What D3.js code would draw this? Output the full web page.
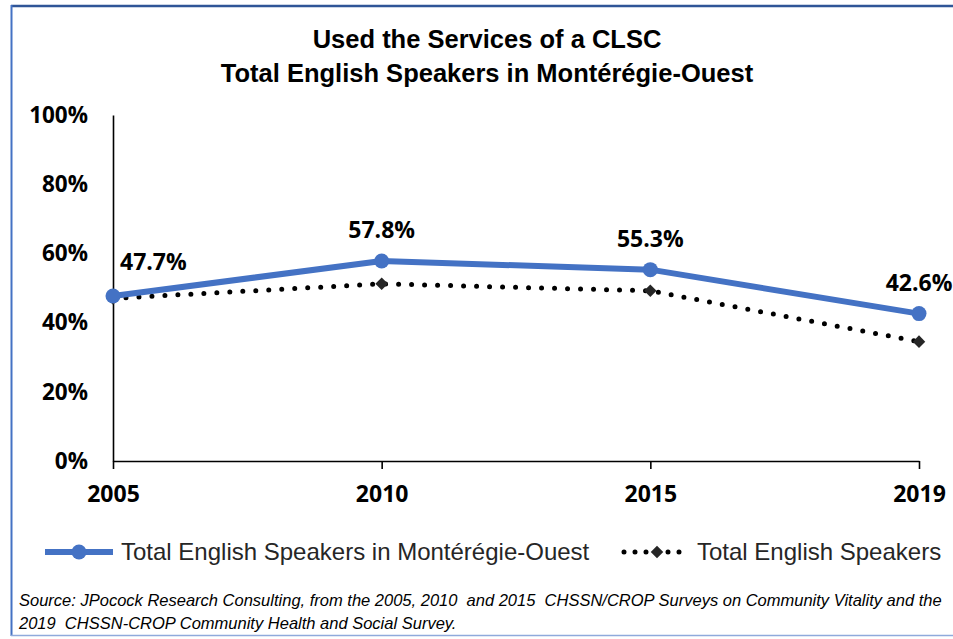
<!DOCTYPE html>
<html>
<head>
<meta charset="utf-8">
<script src="https://cdn.jsdelivr.net/npm/d3@7"></script>
<style>
  body { margin: 0; background: #fff; }
  svg { display: block; }
</style>
</head>
<body>
<div id="chart"></div>
<script>
const years = ["2005", "2010", "2015", "2019"];
const monteregieValues = [0.477, 0.578, 0.553, 0.426];
const totalEnglishValues = [0.47, 0.512, 0.492, 0.345];
const yTicks = [0, 0.2, 0.4, 0.6, 0.8, 1];
const titleLines = ["Used the Services of a CLSC", "Total English Speakers in Montérégie-Ouest"];
const seriesNames = ["Total English Speakers in Montérégie-Ouest", "Total English Speakers"];
const sourceLines = [
    "Source: JPocock Research Consulting, from the 2005, 2010  and 2015  CHSSN/CROP Surveys on Community Vitality and the",
    "2019  CHSSN-CROP Community Health and Social Survey."
];

const width = 953, height = 639;
const plot = {left: 113, right: 919, top: 115, bottom: 461};
const blue = "#4472c4";
const calibri = "'Liberation Sans', sans-serif";
const labelFont = "'Open Sans', 'DejaVu Sans', sans-serif";

const svg = d3.select("#chart")
    .append("svg")
    .attr("width", width)
    .attr("height", height);

// frame
svg.append("line").attr("x1", 11).attr("x2", width).attr("y1", 6).attr("y2", 6)
    .attr("stroke", "#2f5597").attr("stroke-width", 2.5);
svg.append("line").attr("x1", 11.5).attr("x2", 11.5).attr("y1", 5).attr("y2", 636)
    .attr("stroke", blue).attr("stroke-width", 2);
svg.append("line").attr("x1", 11).attr("x2", width).attr("y1", 635.5).attr("y2", 635.5)
    .attr("stroke", "#8faadc").attr("stroke-width", 1.5);

// title
svg.selectAll("text.title")
    .data(titleLines)
    .enter()
    .append("text")
    .attr("class", "title")
    .attr("x", 487)
    .attr("y", function (d, i) { return 48 + i * 34; })
    .attr("text-anchor", "middle")
    .style("font-family", calibri)
    .style("font-weight", "bold")
    .style("font-size", "25.5px")
    .text(function (d) { return d; });

const x = d3.scalePoint().domain(years).range([plot.left, plot.right]);
const y = d3.scaleLinear().domain([0, 1]).range([plot.bottom, plot.top]);

const yAxis = svg.append("g")
    .attr("transform", "translate(" + plot.left + ",0)")
    .call(d3.axisLeft(y).tickValues(yTicks).tickFormat(d3.format(".0%")).tickSize(0).tickPadding(25));

const xAxis = svg.append("g")
    .attr("transform", "translate(0," + plot.bottom + ")")
    .call(d3.axisBottom(x).tickSize(8).tickSizeOuter(0).tickPadding(17));

[yAxis, xAxis].forEach(function (ax) {
    ax.select(".domain").attr("stroke", "#000").attr("stroke-width", 1.6);
    ax.selectAll(".tick line").attr("stroke", "#000").attr("stroke-width", 1.6);
    ax.selectAll(".tick text")
        .attr("fill", "#000")
        .style("font-family", labelFont)
        .style("font-weight", "bold");
});
yAxis.selectAll(".tick text").style("font-size", "22.5px");
xAxis.selectAll(".tick text").style("font-size", "23px");

const line = d3.line()
    .x(function (d, i) { return x(years[i]); })
    .y(function (d) { return y(d); });

// dotted series
svg.append("path")
    .datum(totalEnglishValues)
    .attr("d", line)
    .attr("fill", "none")
    .attr("stroke", "#000")
    .attr("stroke-width", 5)
    .attr("stroke-linecap", "round")
    .attr("stroke-dasharray", "0,13");

svg.selectAll("path.diamond")
    .data(totalEnglishValues)
    .enter()
    .append("path")
    .attr("class", "diamond")
    .attr("d", d3.symbol().type(d3.symbolDiamond2).size(100))
    .attr("transform", function (d, i) { return "translate(" + x(years[i]) + "," + y(d) + ")"; })
    .attr("fill", "#262626");

// blue series
svg.append("path")
    .datum(monteregieValues)
    .attr("d", line)
    .attr("fill", "none")
    .attr("stroke", blue)
    .attr("stroke-width", 6)
    .attr("stroke-linejoin", "round");

svg.selectAll("circle.marker")
    .data(monteregieValues)
    .enter()
    .append("circle")
    .attr("class", "marker")
    .attr("cx", function (d, i) { return x(years[i]); })
    .attr("cy", function (d) { return y(d); })
    .attr("r", 7.5)
    .attr("fill", blue);

svg.selectAll("text.value")
    .data(monteregieValues)
    .enter()
    .append("text")
    .attr("class", "value")
    .attr("x", function (d, i) { return i === 0 ? x(years[i]) + 7 : x(years[i]); })
    .attr("y", function (d, i) { return y(d) - (i === 0 ? 26 : 23); })
    .attr("text-anchor", function (d, i) { return i === 0 ? "start" : "middle"; })
    .style("font-family", labelFont)
    .style("font-weight", "bold")
    .style("font-size", "23px")
    .attr("fill", "#000")
    .text(function (d) { return d3.format(".1%")(d); });

// legend
const legendY = 552;
svg.append("line").attr("x1", 45).attr("x2", 113).attr("y1", legendY).attr("y2", legendY)
    .attr("stroke", blue).attr("stroke-width", 6);
svg.append("circle").attr("cx", 79).attr("cy", legendY).attr("r", 7.5).attr("fill", blue);
svg.append("line").attr("x1", 624).attr("x2", 690).attr("y1", legendY).attr("y2", legendY)
    .attr("stroke", "#000").attr("stroke-width", 5)
    .attr("stroke-linecap", "round").attr("stroke-dasharray", "0,11");
svg.append("path")
    .attr("d", d3.symbol().type(d3.symbolDiamond2).size(100))
    .attr("transform", "translate(657," + legendY + ")")
    .attr("fill", "#262626");

svg.selectAll("text.legend")
    .data(seriesNames)
    .enter()
    .append("text")
    .attr("class", "legend")
    .attr("x", function (d, i) { return i === 0 ? 121 : 697; })
    .attr("y", legendY + 8)
    .style("font-family", calibri)
    .style("font-size", "24px")
    .attr("fill", "#262626")
    .text(function (d) { return d; });

// source note
svg.selectAll("text.source")
    .data(sourceLines)
    .enter()
    .append("text")
    .attr("class", "source")
    .attr("x", 19)
    .attr("y", function (d, i) { return 606 + i * 23; })
    .style("font-family", calibri)
    .style("font-style", "italic")
    .style("font-size", "16.5px")
    .style("white-space", "pre")
    .attr("fill", "#000")
    .text(function (d) { return d; });
</script>
</body>
</html>
